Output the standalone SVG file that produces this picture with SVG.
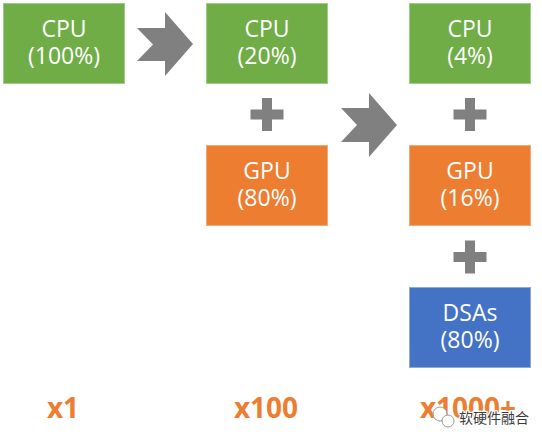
<svg xmlns="http://www.w3.org/2000/svg" width="542" height="443" viewBox="0 0 542 443">
<style>
.box{stroke-width:1}
.green{fill:#70AD47;stroke:#9fcb84}
.orange{fill:#ED7D31;stroke:#f3a878}
.blue{fill:#4472C4;stroke:#8ea8da}
.lbl{font-family:"Open Sans","Noto Sans","DejaVu Sans",sans-serif;font-size:23px;fill:#ffffff;text-anchor:middle}
.mult{font-family:"Open Sans","Noto Sans","DejaVu Sans",sans-serif;font-size:28px;font-weight:bold;fill:#ED7D31;text-anchor:middle}
.gray{fill:#808080}
.wm{font-family:"Noto Sans CJK SC",sans-serif;font-size:14px;fill:#3a3a3a;stroke:#ffffff;stroke-width:2.5;paint-order:stroke;stroke-linejoin:round}
</style>
<defs>
<path id="plus" d="M-5,-16.5h10v11.5h11.5v10h-11.5v11.5h-10v-11.5h-11.5v-10h11.5z"/>
</defs>
<rect width="542" height="443" fill="#ffffff"/>

<g id="cpu100">
<rect class="box green" x="3.5" y="3.5" width="121" height="80"/>
<text class="lbl" x="64" y="37">CPU</text>
<text class="lbl" x="64" y="64">(100%)</text>
</g>

<g id="cpu20">
<rect class="box green" x="206.5" y="3.5" width="121" height="80"/>
<text class="lbl" x="267" y="37">CPU</text>
<text class="lbl" x="267" y="64">(20%)</text>
</g>

<g id="gpu80">
<rect class="box orange" x="206.5" y="145.5" width="121" height="80"/>
<text class="lbl" x="267" y="179">GPU</text>
<text class="lbl" x="267" y="206">(80%)</text>
</g>

<g id="cpu4">
<rect class="box green" x="409.5" y="3.5" width="121" height="80"/>
<text class="lbl" x="470" y="37">CPU</text>
<text class="lbl" x="470" y="64">(4%)</text>
</g>

<g id="gpu16">
<rect class="box orange" x="409.5" y="145.5" width="121" height="80"/>
<text class="lbl" x="470" y="179">GPU</text>
<text class="lbl" x="470" y="206">(16%)</text>
</g>

<g id="dsa80">
<rect class="box blue" x="409.5" y="287.5" width="121" height="80"/>
<text class="lbl" x="470" y="321">DSAs</text>
<text class="lbl" x="470" y="348">(80%)</text>
</g>

<g id="connectors">
<polygon class="gray" points="137,28 165,28 165,12 193,44 165,76 165,61 137,61 153,44.5"/>
<polygon class="gray" points="341,108 369,108 369,93 397,125 369,157 369,142 341,142 357,125"/>
<use href="#plus" class="gray" x="267" y="114.5"/>
<use href="#plus" class="gray" x="470" y="114.5"/>
<use href="#plus" class="gray" x="470" y="257"/>
</g>

<g id="multipliers">
<text class="mult" x="63" y="418">x1</text>
<text class="mult" x="266" y="418">x100</text>
<text class="mult" x="468" y="418">x1000+</text>
</g>

<g id="watermark">
<circle cx="440" cy="414" r="7" fill="#ffffff" stroke="#9a9a9a" stroke-width="1"/>
<circle cx="448" cy="421" r="6" fill="#ffffff" stroke="#9a9a9a" stroke-width="1"/>
<text class="wm" x="459" y="423">软硬件融合</text>
</g>
</svg>
